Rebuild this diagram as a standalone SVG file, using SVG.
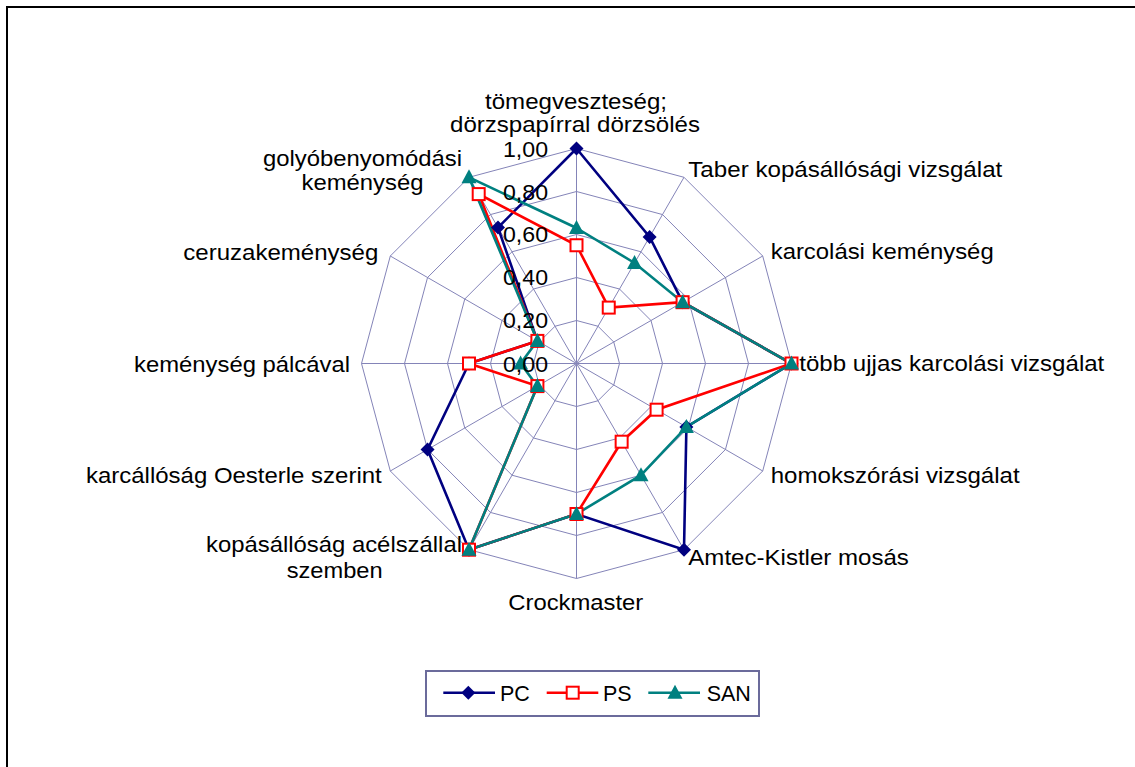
<svg xmlns="http://www.w3.org/2000/svg" xmlns:xlink="http://www.w3.org/1999/xlink" width="1135" height="767" viewBox="0 0 1135 767">
<style>
.grid{fill:none;stroke:#8484b8;stroke-width:1}
.lbl{font-family:"Liberation Sans",Arial,sans-serif;font-size:22.5px;fill:#000}
.lbl2{font-family:"Liberation Sans",Arial,sans-serif;font-size:22px;fill:#000}
.tick{font-family:"Liberation Sans",Arial,sans-serif;font-size:21.5px;fill:#000}
.leg{font-family:"Liberation Sans",Arial,sans-serif;font-size:21.5px;fill:#000}
.pc{fill:none;stroke:#000080;stroke-width:2.6;stroke-linejoin:miter}
.ps{fill:none;stroke:#ff0000;stroke-width:2.6}
.san{fill:none;stroke:#008080;stroke-width:2.6}
</style>
<defs>
<polygon id="dia" points="0,-7 7,0 0,7 -7,0" fill="#000080"/>
<rect id="sq" x="-6" y="-6" width="12" height="12" fill="#fff" stroke="#ff0000" stroke-width="2"/>
<polygon id="tri" points="0,-8 7.5,6 -7.5,6" fill="#008080"/>
</defs>
<rect x="0" y="0" width="1135" height="767" fill="#fff"/>
<rect x="7" y="7" width="1150" height="790" fill="none" stroke="#000" stroke-width="2"/>
<g id="grid">
<polygon class="grid" points="576.5,320.5 598,326.26 613.74,342 619.5,363.5 613.74,385 598,400.74 576.5,406.5 555,400.74 539.26,385 533.5,363.5 539.26,342 555,326.26"/>
<polygon class="grid" points="576.5,277.5 619.5,289.02 650.98,320.5 662.5,363.5 650.98,406.5 619.5,437.98 576.5,449.5 533.5,437.98 502.02,406.5 490.5,363.5 502.02,320.5 533.5,289.02"/>
<polygon class="grid" points="576.5,234.5 641,251.79 688.21,299 705.5,363.5 688.21,428 641,475.21 576.5,492.5 512,475.21 464.79,428 447.5,363.5 464.79,299 512,251.79"/>
<polygon class="grid" points="576.5,191.5 662.5,214.55 725.45,277.5 748.5,363.5 725.45,449.5 662.5,512.45 576.5,535.5 490.5,512.45 427.55,449.5 404.5,363.5 427.55,277.5 490.5,214.55"/>
<polygon class="grid" points="576.5,148.5 684,177.3 762.7,256 791.5,363.5 762.7,471 684,549.7 576.5,578.5 469,549.7 390.3,471 361.5,363.5 390.3,256 469,177.3"/>
<path class="grid" d="M576.5,363.5L576.5,148.5M576.5,363.5L684,177.3M576.5,363.5L762.7,256M576.5,363.5L791.5,363.5M576.5,363.5L762.7,471M576.5,363.5L684,549.7M576.5,363.5L576.5,578.5M576.5,363.5L469,549.7M576.5,363.5L390.3,471M576.5,363.5L361.5,363.5M576.5,363.5L390.3,256M576.5,363.5L469,177.3"/>
</g>
<g id="connectors">
<polygon id="series-pc" class="pc" points="576.5,148.5 649.6,236.9 682.6,302.2 791.5,363.5 686.4,426.9 684,549.7 576.5,514 469,549.7 427.55,449.5 469,363.5 537.4,340.9 498,227.6"/>
<polygon id="series-ps" class="ps" points="576.5,245.25 608.75,307.6 682.6,302.2 791.5,363.5 656.6,409.7 621.65,441.7 576.5,514 469,549.7 537.4,386.1 469,363.5 537.4,340.9 478.7,194.1"/>
<polygon id="series-san" class="san" points="576.5,228 634.55,263 682.6,302.2 791.5,363.5 686.4,426.9 641,475.2 576.5,514 469,549.7 537.4,386.1 520.6,363.5 537.4,340.9 469,177.3"/>
</g>
<g id="markers-pc">
<use xlink:href="#dia" x="576.5" y="148.5"/><use xlink:href="#dia" x="649.6" y="236.9"/><use xlink:href="#dia" x="682.6" y="302.2"/><use xlink:href="#dia" x="791.5" y="363.5"/><use xlink:href="#dia" x="686.4" y="426.9"/><use xlink:href="#dia" x="684" y="549.7"/><use xlink:href="#dia" x="576.5" y="514"/><use xlink:href="#dia" x="469" y="549.7"/><use xlink:href="#dia" x="427.55" y="449.5"/><use xlink:href="#dia" x="469" y="363.5"/><use xlink:href="#dia" x="537.4" y="340.9"/><use xlink:href="#dia" x="498" y="227.6"/>
</g>
<g id="markers-ps">
<use xlink:href="#sq" x="576.5" y="245.25"/><use xlink:href="#sq" x="608.75" y="307.6"/><use xlink:href="#sq" x="682.6" y="302.2"/><use xlink:href="#sq" x="791.5" y="363.5"/><use xlink:href="#sq" x="656.6" y="409.7"/><use xlink:href="#sq" x="621.65" y="441.7"/><use xlink:href="#sq" x="576.5" y="514"/><use xlink:href="#sq" x="469" y="549.7"/><use xlink:href="#sq" x="537.4" y="386.1"/><use xlink:href="#sq" x="469" y="363.5"/><use xlink:href="#sq" x="537.4" y="340.9"/><use xlink:href="#sq" x="478.7" y="194.1"/>
</g>
<g id="markers-san">
<use xlink:href="#tri" x="576.5" y="228"/><use xlink:href="#tri" x="634.55" y="263"/><use xlink:href="#tri" x="682.6" y="302.2"/><use xlink:href="#tri" x="791.5" y="363.5"/><use xlink:href="#tri" x="686.4" y="426.9"/><use xlink:href="#tri" x="641" y="475.2"/><use xlink:href="#tri" x="576.5" y="514"/><use xlink:href="#tri" x="469" y="549.7"/><use xlink:href="#tri" x="537.4" y="386.1"/><use xlink:href="#tri" x="520.6" y="363.5"/><use xlink:href="#tri" x="537.4" y="340.9"/><use xlink:href="#tri" x="469" y="177.3"/>
</g>
<g id="ticks">
<text class="tick" x="548" y="157" text-anchor="end" textLength="45" lengthAdjust="spacingAndGlyphs">1,00</text>
<text class="tick" x="548" y="200" text-anchor="end" textLength="45" lengthAdjust="spacingAndGlyphs">0,80</text>
<text class="tick" x="548" y="242" text-anchor="end" textLength="45" lengthAdjust="spacingAndGlyphs">0,60</text>
<text class="tick" x="548" y="285" text-anchor="end" textLength="45" lengthAdjust="spacingAndGlyphs">0,40</text>
<text class="tick" x="548" y="328" text-anchor="end" textLength="45" lengthAdjust="spacingAndGlyphs">0,20</text>
<text class="tick" x="548" y="372" text-anchor="end" textLength="45" lengthAdjust="spacingAndGlyphs">0,00</text>
</g>
<g id="axis-0"><text class="lbl2" x="576" y="109" text-anchor="middle" textLength="182" lengthAdjust="spacingAndGlyphs">tömegveszteség;</text><text class="lbl2" x="575" y="132" text-anchor="middle" textLength="250" lengthAdjust="spacingAndGlyphs">dörzspapírral dörzsölés</text></g>
<g id="axis-1"><text class="lbl" x="688.3" y="176.7" textLength="314" lengthAdjust="spacingAndGlyphs">Taber kopásállósági vizsgálat</text></g>
<g id="axis-2"><text class="lbl" x="770.7" y="259.3" textLength="223" lengthAdjust="spacingAndGlyphs">karcolási keménység</text></g>
<g id="axis-3"><text class="lbl" x="799.3" y="371" textLength="305" lengthAdjust="spacingAndGlyphs">több ujjas karcolási vizsgálat</text></g>
<g id="axis-4"><text class="lbl" x="770.7" y="483.3" textLength="249" lengthAdjust="spacingAndGlyphs">homokszórási vizsgálat</text></g>
<g id="axis-5"><text class="lbl" x="688.3" y="565" textLength="220.6" lengthAdjust="spacingAndGlyphs">Amtec-Kistler mosás</text></g>
<g id="axis-6"><text class="lbl" x="575.8" y="610" text-anchor="middle" textLength="135" lengthAdjust="spacingAndGlyphs">Crockmaster</text></g>
<g id="axis-7"><text class="lbl2" x="334" y="551.7" text-anchor="middle" textLength="256" lengthAdjust="spacingAndGlyphs">kopásállóság acélszállal</text><text class="lbl2" x="334.7" y="578.3" text-anchor="middle" textLength="96" lengthAdjust="spacingAndGlyphs">szemben</text></g>
<g id="axis-8"><text class="lbl" x="381.7" y="483.3" text-anchor="end" textLength="295.7" lengthAdjust="spacingAndGlyphs">karcállóság Oesterle szerint</text></g>
<g id="axis-9"><text class="lbl" x="350" y="371.7" text-anchor="end" textLength="216" lengthAdjust="spacingAndGlyphs">keménység pálcával</text></g>
<g id="axis-10"><text class="lbl" x="378.3" y="260" text-anchor="end" textLength="195" lengthAdjust="spacingAndGlyphs">ceruzakeménység</text></g>
<g id="axis-11"><text class="lbl2" x="362.5" y="166" text-anchor="middle" textLength="199" lengthAdjust="spacingAndGlyphs">golyóbenyomódási</text><text class="lbl2" x="362.5" y="190" text-anchor="middle" textLength="122" lengthAdjust="spacingAndGlyphs">keménység</text></g>
<g id="legend">
<rect x="426" y="671" width="333" height="45" fill="#fff" stroke="#6b6b9b" stroke-width="2"/>
<line x1="443.3" y1="692.7" x2="495" y2="692.7" stroke="#000080" stroke-width="2.6"/>
<use xlink:href="#dia" x="468.3" y="692.7"/>
<text class="leg" x="500" y="700.5">PC</text>
<line x1="546.7" y1="692.7" x2="598.3" y2="692.7" stroke="#ff0000" stroke-width="2.6"/>
<use xlink:href="#sq" x="572.7" y="692.7"/>
<text class="leg" x="603" y="700.5">PS</text>
<line x1="648.3" y1="692.7" x2="700" y2="692.7" stroke="#008080" stroke-width="2.6"/>
<use xlink:href="#tri" x="675" y="692.7"/>
<text class="leg" x="706.7" y="700.5">SAN</text>
</g>
</svg>
